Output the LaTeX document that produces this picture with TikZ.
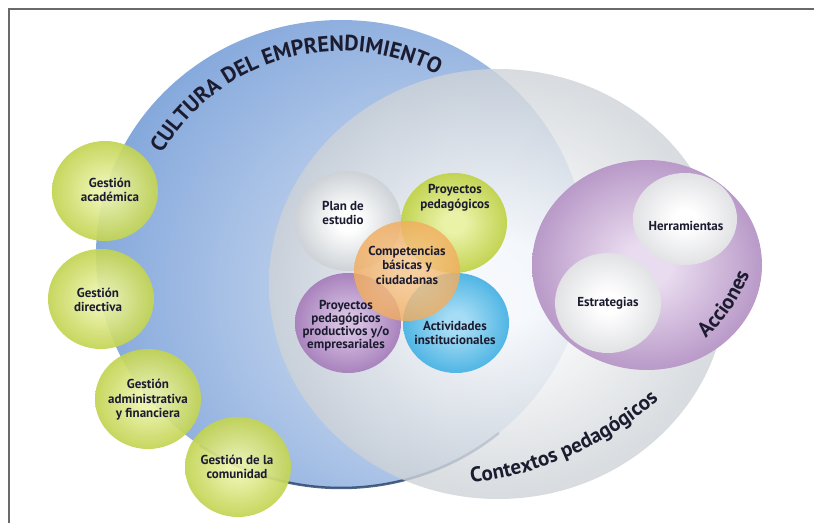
\documentclass[tikz,border=0pt]{standalone}
\usepackage{fontspec}
\setmainfont{PT Sans}
\usetikzlibrary{shapes.geometric,decorations.text}

\definecolor{ink}{HTML}{1C1C30}
\definecolor{framegray}{HTML}{6A6A6A}
\definecolor{bluein}{HTML}{DFE8F5}
\definecolor{blueout}{HTML}{5A8AD0}
\definecolor{blueedge}{HTML}{233F66}
\definecolor{greyout}{HTML}{A8B0B8}
\definecolor{greenin}{HTML}{EAF2A8}
\definecolor{greenout}{HTML}{A4BC10}
\definecolor{orangein}{HTML}{F8C88E}
\definecolor{orangeout}{HTML}{EE983A}
\definecolor{violetin}{HTML}{D6C0E2}
\definecolor{violetout}{HTML}{8553A0}
\definecolor{cyanin}{HTML}{A6DCF4}
\definecolor{cyanout}{HTML}{0E98D8}
\definecolor{plumin}{HTML}{EADCF0}
\definecolor{plumout}{HTML}{9366A9}
\definecolor{pearlout}{HTML}{CBCCD1}

\colorlet{glowin}{white}
\colorlet{glowout}{gray}
\pgfdeclareradialshading[glowin,glowout]{glow}{\pgfpoint{0bp}{0bp}}{color(0bp)=(glowin); color(5bp)=(glowin); color(28bp)=(glowout!65!glowin); color(50bp)=(glowout)}
\pgfdeclareradialshading[glowin,glowout]{glowside}{\pgfpoint{14bp}{-6bp}}{color(0bp)=(glowin); color(15bp)=(glowin!72!glowout); color(40bp)=(glowout!85!glowin); color(64bp)=(glowout)}

\newcommand\labeltxt{\bfseries\fontsize{13}{14.5}\selectfont}
\newcommand\titletxt{\bfseries\fontsize{22}{26}\selectfont}
\newcommand\arctxtfont{\bfseries\fontsize{21}{25}\selectfont}

\begin{document}
\begin{tikzpicture}[x=1pt,y=1pt,
  disc/.style 2 args={ellipse,inner sep=0pt,minimum width=106,minimum height=100,shade,shading=glow,/utils/exec={\colorlet{glowin}{#1}\colorlet{glowout}{#2}}},
  lbl/.style={font=\labeltxt,align=center,text=ink,inner sep=0pt},
  arctxt/.style={decorate,decoration={text along path,text align=center,text color=ink,text={#1}}}]
\useasboundingbox (0,0) rectangle (814,523);
\draw[framegray,line width=1.5pt] (9,0) -- (9,514) -- (814,514);

\node[ellipse,inner sep=0pt,minimum width=490,minimum height=468,shade,shading=glowside,/utils/exec={\colorlet{glowin}{bluein}\colorlet{glowout}{blueout}}] (cultura) at (341,269) {};
\draw[blueedge,line width=2.5pt,line cap=round,opacity=.8] (341,269) ++(-125:245 and 234) arc[start angle=-125,end angle=-50,x radius=245,y radius=234];
\node[disc={white}{greyout},minimum width=458,minimum height=430,opacity=.8] (contextos) at (498,239) {};

\node[disc={greenin}{greenout},opacity=.93] (academica) at (105,332) {};
\node[disc={greenin}{greenout},opacity=.93] (directiva) at (101,224) {};
\node[disc={greenin}{greenout},opacity=.93] (administrativa) at (148,124) {};
\node[disc={greenin}{greenout},opacity=.93] (comunidad) at (238,56) {};

\node[disc={white}{greyout}] (plan) at (348,302) {};
\node[disc={greenin}{greenout}] (proyectos) at (454,300) {};
\node[disc={violetin}{violetout}] (productivos) at (348,200) {};
\node[disc={cyanin}{cyanout}] (actividades) at (456,200) {};
\node[disc={orangein}{orangeout},opacity=.82] (competencias) at (407,252) {};

\node[disc={plumin}{plumout},minimum width=230,minimum height=210] (acciones) at (647,258) {};
\node[disc={white}{pearlout},minimum width=104,minimum height=92] (herramientas) at (685,304) {};
\node[disc={white}{pearlout}] (estrategias) at (608,220) {};

\node[lbl] (academicatxt) at (110,333) {Gestión\\académica};
\node[lbl] (directivatxt) at (98,223) {Gestión\\directiva};
\node[lbl] (administrativatxt) at (148,123) {Gestión\\administrativa\\y financiera};
\node[lbl] (comunidadtxt) at (237,56) {Gestión de la\\comunidad};
\node[lbl] (plantxt) at (343,310) {Plan de\\estudio};
\node[lbl] (proyectostxt) at (455,325) {Proyectos\\pedagógicos};
\node[lbl] (competenciastxt) at (407,258) {Competencias\\básicas y\\ciudadanas};
\node[lbl,font=\bfseries\fontsize{13}{13}\selectfont] (productivostxt) at (346,197) {Proyectos\\pedagógicos\\productivos y/o\\empresariales};
\node[lbl] (actividadestxt) at (455,190) {Actividades\\institucionales};
\node[lbl] (herramientastxt) at (686,297) {Herramientas};
\node[lbl] (estrategiastxt) at (608,220) {Estrategias};

\path[arctxt={|\titletxt|CULTURA DEL EMPRENDIMIENTO}] (341,265) ++(158:207) arc[start angle=158,end angle=54,radius=207];
\path[arctxt={|\arctxtfont|Contextos pedagógicos}] (433,378) ++(-90:340) arc[start angle=-90,end angle=-42,radius=340];
\path[arctxt={|\arctxtfont|Acciones}] (582,315) ++(-52:180) arc[start angle=-52,end angle=-16,radius=180];
\end{tikzpicture}
\end{document}
